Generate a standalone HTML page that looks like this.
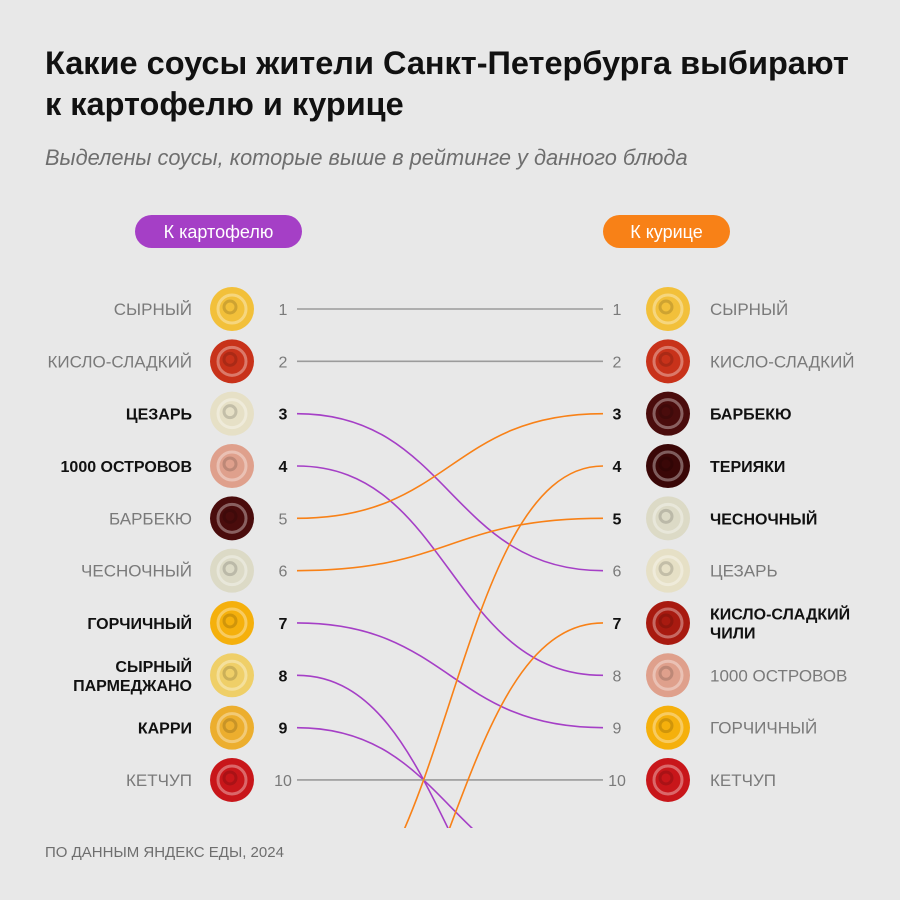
<!DOCTYPE html>
<html><head><meta charset="utf-8"><style>
html,body{margin:0;background:#e8e8e8;width:900px;height:900px;overflow:hidden;}
svg{display:block;font-family:"Liberation Sans","DejaVu Sans",sans-serif;}
</style></head><body>
<svg id="chart" width="900" height="900" viewBox="0 0 900 900">
<rect width="900" height="900" fill="#e8e8e8"/>
<text x="45" y="74" font-size="32.5" font-weight="bold" fill="#111">Какие соусы жители Санкт-Петербурга выбирают</text>
<text x="45" y="115" font-size="32.5" font-weight="bold" fill="#111">к картофелю и курице</text>
<text x="45" y="165" font-size="21.8" font-style="italic" fill="#6e6e6e">Выделены соусы, которые выше в рейтинге у данного блюда</text>
<rect x="135" y="215" width="167" height="33" rx="16.5" fill="#a53fc6"/>
<text x="218.5" y="238" font-size="18" fill="#fff" text-anchor="middle">К картофелю</text>
<rect x="603" y="215" width="127" height="33" rx="16.5" fill="#f88117"/>
<text x="666.5" y="238" font-size="18" fill="#fff" text-anchor="middle">К курице</text>
<defs><clipPath id="clip"><rect x="0" y="0" width="900" height="828"/></clipPath></defs>
<g id="lines" clip-path="url(#clip)"></g>
<g id="items"></g>
<text x="45" y="857" font-size="15" fill="#6e6e6e">ПО ДАННЫМ ЯНДЕКС ЕДЫ, 2024</text>
</svg>
<script>
// Left ranking (potato)
const leftNames = ["СЫРНЫЙ","КИСЛО-СЛАДКИЙ","ЦЕЗАРЬ","1000 ОСТРОВОВ","БАРБЕКЮ","ЧЕСНОЧНЫЙ","ГОРЧИЧНЫЙ","СЫРНЫЙ\nПАРМЕДЖАНО","КАРРИ","КЕТЧУП"];
const leftBold = [false,false,true,true,false,false,true,true,true,false];
const leftColors = ["#f2c03a","#c8321a","#e6e0c6","#dfa08c","#4a0c0c","#dcdac6","#f5b00c","#efcf68","#ecae2e","#c8161a"];
// Right rank each potato sauce has for chicken (>10 = outside top)
const leftToRight = [1,2,6,8,3,5,9,14.0,12.0,10];
// Right ranking (chicken)
const rightNames = ["СЫРНЫЙ","КИСЛО-СЛАДКИЙ","БАРБЕКЮ","ТЕРИЯКИ","ЧЕСНОЧНЫЙ","ЦЕЗАРЬ","КИСЛО-СЛАДКИЙ\nЧИЛИ","1000 ОСТРОВОВ","ГОРЧИЧНЫЙ","КЕТЧУП"];
const rightBold = [false,false,true,true,true,false,true,false,false,false];
const rightColors = ["#f2c03a","#c8321a","#4a0c0c","#3a0707","#dcdac6","#e6e0c6","#a81a10","#dfa08c","#f5b00c","#c8161a"];
// Potato rank for chicken-only sauces (right 4 and 7), outside top 10
const newOnRight = [[4,13.0],[7,14.8]];
const ranks = [1,2,3,4,5,6,7,8,9,10];

const NS="http://www.w3.org/2000/svg";
const y = r => 309 + (r-1)*52.33;
const X0=297, X1=603, XM=450;
function mk(tag, attrs, parent){const e=document.createElementNS(NS,tag);for(const k in attrs)e.setAttribute(k,attrs[k]);parent.appendChild(e);return e;}
const lines=document.getElementById('lines'), items=document.getElementById('items');
function curve(a,b,color,name){
  const p=mk('path',{d:`M${X0},${y(a)} C${XM},${y(a)} ${XM},${y(b)} ${X1},${y(b)}`,fill:'none',stroke:color,'stroke-width':1.6},lines);
  
  
}
leftToRight.forEach((r,i)=>{
  const a=i+1;
  let c;
  if(r===a) c='#9b9b9b';
  else if(r>a) c='#a53fc6';
  else c='#f88117';
  curve(a,r,c,'link-'+a);
});
newOnRight.forEach(([r,l])=>curve(l,r,'#f88117','link-new-'+r));

function sauce(cx,cy,col,name){
  const g=mk('g',{},items);
  
  
  mk('circle',{cx,cy,r:22,fill:col},g);
  mk('circle',{cx,cy,r:14,fill:'none',stroke:'rgba(255,255,255,0.35)','stroke-width':3},g);
  mk('circle',{cx:cx-2,cy:cy-2,r:6,fill:'none',stroke:'rgba(0,0,0,0.15)','stroke-width':3},g);
}
function label(x,cy,text,bold,anchor,name){
  const parts=text.split('\n');
  const t=mk('text',{x,y:cy+6-(parts.length-1)*9.5,'font-size':bold?16:17,'text-anchor':anchor,fill:bold?'#111':'#7a7a7a','font-weight':bold?'bold':'normal'},items);
  
  
  parts.forEach((p,i)=>{const s=mk('tspan',{x,dy:i?19:0},t);s.textContent=p;});
}
ranks.forEach((r,i)=>{
  const cy=y(r);
  label(192,cy,leftNames[i],leftBold[i],'end','left-label-'+r);
  sauce(232,cy,leftColors[i],'left-sauce-'+r);
  const n=mk('text',{x:283,y:cy+6,'font-size':16,'text-anchor':'middle',fill:leftBold[i]?'#111':'#7a7a7a','font-weight':leftBold[i]?'bold':'normal'},items);
  n.textContent=r;
  
  
  const m=mk('text',{x:617,y:cy+6,'font-size':16,'text-anchor':'middle',fill:rightBold[i]?'#111':'#7a7a7a','font-weight':rightBold[i]?'bold':'normal'},items);
  m.textContent=r;
  
  
  sauce(668,cy,rightColors[i],'right-sauce-'+r);
  label(710,cy,rightNames[i],rightBold[i],'start','right-label-'+r);
});
</script>
</body></html>
